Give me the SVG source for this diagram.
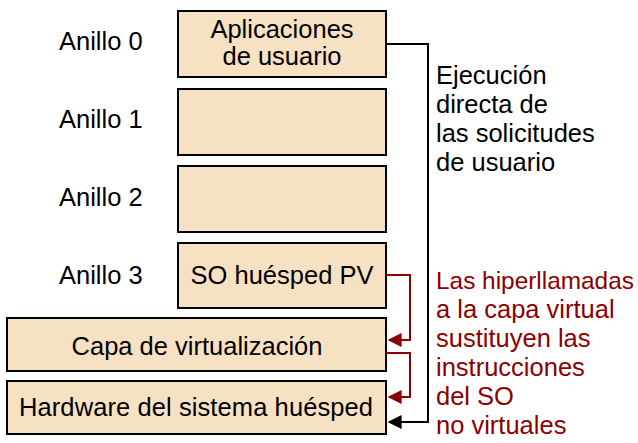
<svg xmlns="http://www.w3.org/2000/svg" width="638" height="443" viewBox="0 0 638 443">
<defs>
<style>
text{font-family:"Liberation Sans",Arial,sans-serif;font-size:25.5px;fill:#000}
.box{fill:#F6E2C3;stroke:#000;stroke-width:2}
.red{fill:#8B0000}
.c{text-anchor:middle}
.lk{fill:none;stroke:#000;stroke-width:2}
.lr{fill:none;stroke:#8B0000;stroke-width:2}
</style>
<marker id="ab" viewBox="0 0 10 10" refX="9" refY="5" markerWidth="14" markerHeight="14" markerUnits="userSpaceOnUse" orient="auto"><path d="M0,0L10,5L0,10z" fill="#000"/></marker>
<marker id="ar" viewBox="0 0 10 10" refX="9" refY="5" markerWidth="14" markerHeight="14" markerUnits="userSpaceOnUse" orient="auto"><path d="M0,0L10,5L0,10z" fill="#8B0000"/></marker>
</defs>
<rect width="638" height="443" fill="#fff"/>
<g id="labels">
<text x="59" y="50">Anillo 0</text>
<text x="59" y="128">Anillo 1</text>
<text x="59" y="206">Anillo 2</text>
<text x="59" y="284">Anillo 3</text>
</g>
<g id="ring0"><rect class="box" x="178" y="11" width="208" height="66"/><text class="c" x="282" y="38">Aplicaciones</text><text class="c" x="282" y="65">de usuario</text></g>
<g id="ring1"><rect class="box" x="178" y="89" width="208" height="66"/></g>
<g id="ring2"><rect class="box" x="178" y="166" width="208" height="66"/></g>
<g id="ring3"><rect class="box" x="178" y="243" width="208" height="65"/><text class="c" x="282" y="284">SO huésped PV</text></g>
<g id="capa"><rect class="box" x="7" y="318" width="379" height="53"/><text class="c" x="197" y="355">Capa de virtualización</text></g>
<g id="hardware"><rect class="box" x="7" y="381" width="379" height="53"/><text class="c" x="196" y="416" textLength="354">Hardware del sistema huésped</text></g>
<g id="connectors">
<path class="lk" d="M386,44H428V422H389" marker-end="url(#ab)"/>
<path class="lr" d="M386,275H410V340H389" marker-end="url(#ar)"/>
<path class="lr" d="M386,353H410V397H389" marker-end="url(#ar)"/>
</g>
<g id="notes">
<text x="436" y="84">Ejecución</text>
<text x="436" y="113">directa de</text>
<text x="436" y="142">las solicitudes</text>
<text x="436" y="171">de usuario</text>
<text class="red" x="436" y="289" style="font-size:24.4px">Las hiperllamadas</text>
<text class="red" x="436" y="318">a la capa virtual</text>
<text class="red" x="436" y="347">sustituyen las</text>
<text class="red" x="436" y="376">instrucciones</text>
<text class="red" x="436" y="405">del SO</text>
<text class="red" x="436" y="434">no virtuales</text>
</g>
</svg>
